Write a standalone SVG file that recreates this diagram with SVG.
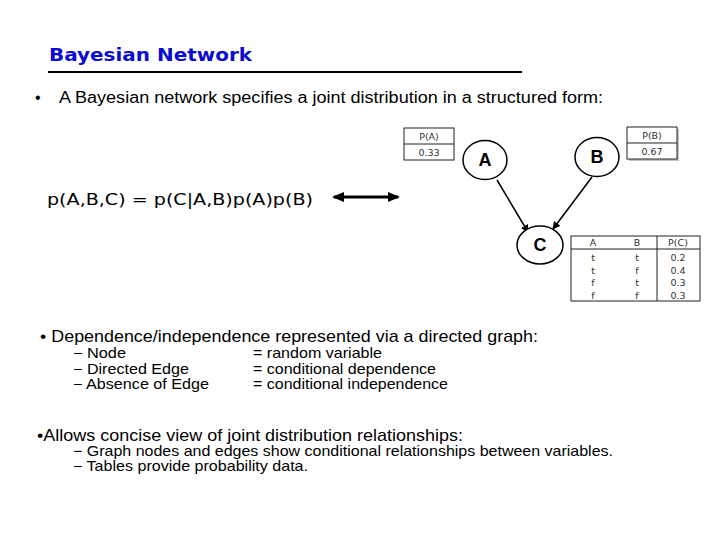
<svg xmlns="http://www.w3.org/2000/svg" width="720" height="540" viewBox="0 0 720 540">
<style>
.t{font-family:"Liberation Sans",Arial,sans-serif;fill:#000}
.v{font-family:"DejaVu Sans",Verdana,sans-serif;fill:#000}
.node{fill:#fff;stroke:#000;stroke-width:1.5}
.nl{font-family:"Liberation Sans",Arial,sans-serif;font-weight:bold;font-size:18px;text-anchor:middle}
.tb{fill:#fff;stroke:#222;stroke-width:1}
.tt{font-family:"DejaVu Sans",Verdana,sans-serif;font-size:9.5px;fill:#333;text-anchor:middle}
.edge{stroke:#000;stroke-width:1.5;fill:none}
</style>
<defs>
<marker id="ah" markerWidth="8" markerHeight="8" refX="7" refY="4" orient="auto" markerUnits="userSpaceOnUse">
<path d="M0,0 L8,4 L0,8 z" fill="#000"/>
</marker>
<marker id="dh" markerWidth="12" markerHeight="10" refX="10" refY="5" orient="auto-start-reverse" markerUnits="userSpaceOnUse">
<path d="M0,0 L12,5 L0,10 z" fill="#000"/>
</marker>
</defs>
<rect width="720" height="540" fill="#fff"/>
<text x="49" y="61" font-family="'DejaVu Sans',Verdana,sans-serif" font-weight="bold" font-size="18" fill="#0a0ad2" textLength="203" lengthAdjust="spacingAndGlyphs">Bayesian Network</text>
<line x1="48" y1="72" x2="522" y2="72" stroke="#000" stroke-width="2"/>
<text class="t" x="35" y="103" font-size="16">•</text>
<text class="t" x="59" y="103" font-size="16" textLength="544" lengthAdjust="spacingAndGlyphs">A Bayesian network specifies a joint distribution in a structured form:</text>
<text class="v" x="47" y="205" font-size="16" textLength="266" lengthAdjust="spacingAndGlyphs">p(A,B,C) = p(C|A,B)p(A)p(B)</text>
<line x1="334" y1="197" x2="398" y2="197" stroke="#000" stroke-width="3" marker-start="url(#dh)" marker-end="url(#dh)"/>
<g id="edges">
<line class="edge" x1="497" y1="180" x2="528" y2="232" marker-end="url(#ah)"/>
<line class="edge" x1="592" y1="177" x2="553" y2="229" marker-end="url(#ah)"/>
</g>
<g id="node-A">
<ellipse class="node" cx="485" cy="160" rx="22" ry="19.5"/>
<text class="nl" x="485" y="166">A</text>
</g>
<g id="node-B">
<ellipse class="node" cx="597" cy="157" rx="22" ry="19.5"/>
<text class="nl" x="597" y="163">B</text>
</g>
<g id="node-C">
<ellipse class="node" cx="540" cy="245" rx="23" ry="19"/>
<text class="nl" x="540" y="251">C</text>
</g>
<g id="table-PA">
<rect class="tb" x="404" y="128" width="50" height="32"/>
<line x1="404" y1="144" x2="454" y2="144" stroke="#222"/>
<text class="tt" x="429" y="140">P(A)</text>
<text class="tt" x="429" y="156">0.33</text>
</g>
<g id="table-PB">
<rect x="629" y="129" width="50" height="32" fill="#888" opacity="0.5"/>
<rect class="tb" x="627" y="127" width="50" height="32"/>
<line x1="627" y1="143" x2="677" y2="143" stroke="#222"/>
<text class="tt" x="652" y="139">P(B)</text>
<text class="tt" x="652" y="155">0.67</text>
</g>
<g id="table-PC">
<rect class="tb" x="571" y="236" width="129" height="65"/>
<line x1="571" y1="249" x2="700" y2="249" stroke="#222"/>
<line x1="657" y1="236" x2="657" y2="301" stroke="#222"/>
<text class="tt" x="593" y="246">A</text>
<text class="tt" x="637" y="246">B</text>
<text class="tt" x="678" y="246">P(C)</text>
<text class="tt" x="593" y="261">t</text><text class="tt" x="637" y="261">t</text><text class="tt" x="678" y="261">0.2</text>
<text class="tt" x="593" y="274">t</text><text class="tt" x="637" y="274">f</text><text class="tt" x="678" y="274">0.4</text>
<text class="tt" x="593" y="286">f</text><text class="tt" x="637" y="286">t</text><text class="tt" x="678" y="286">0.3</text>
<text class="tt" x="593" y="299">f</text><text class="tt" x="637" y="299">f</text><text class="tt" x="678" y="299">0.3</text>
</g>
<text class="t" x="40" y="342" font-size="17" textLength="498" lengthAdjust="spacingAndGlyphs">• Dependence/independence represented via a directed graph:</text>
<g class="t" font-size="14.5">
<text class="t" x="73" y="358" textLength="53" lengthAdjust="spacingAndGlyphs">− Node</text>
<text class="t" x="73" y="374" textLength="116" lengthAdjust="spacingAndGlyphs">− Directed Edge</text>
<text class="t" x="73" y="389" textLength="136" lengthAdjust="spacingAndGlyphs">− Absence of Edge</text>
<text class="t" x="253" y="358" textLength="129" lengthAdjust="spacingAndGlyphs">= random variable</text>
<text class="t" x="253" y="374" textLength="183" lengthAdjust="spacingAndGlyphs">= conditional dependence</text>
<text class="t" x="253" y="389" textLength="195" lengthAdjust="spacingAndGlyphs">= conditional independence</text>
</g>
<text class="t" x="37" y="441" font-size="17" textLength="426" lengthAdjust="spacingAndGlyphs">•Allows concise view of joint distribution relationships:</text>
<text class="t" x="73" y="456" font-size="14.5" textLength="540" lengthAdjust="spacingAndGlyphs">− Graph nodes and edges show conditional relationships between variables.</text>
<text class="t" x="73" y="471" font-size="14.5" textLength="235" lengthAdjust="spacingAndGlyphs">− Tables provide probability data.</text>
</svg>
